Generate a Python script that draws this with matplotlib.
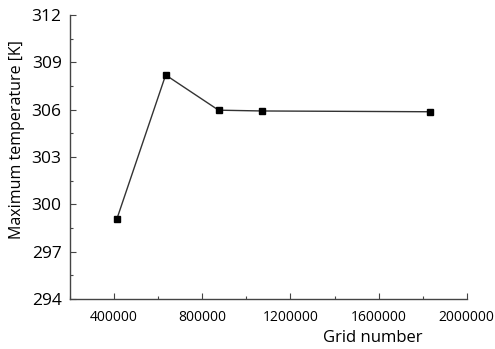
import matplotlib
matplotlib.use("Agg")
import matplotlib.pyplot as plt
from matplotlib.ticker import MultipleLocator

grid_number = [412000, 634000, 874000, 1070000, 1835000]
max_temp = [299.05, 308.2, 305.97, 305.92, 305.87]

plt.rcParams['font.family'] = ['Open Sans', 'DejaVu Sans']

fig = plt.figure(figsize=(4.95, 3.49), dpi=100)
ax = fig.add_axes([0.1414, 0.143, 0.8016, 0.814])

ax.plot(grid_number, max_temp, color="#333333", linewidth=1.0,
        marker='s', markersize=4.5, markerfacecolor='black', markeredgecolor='black')

ax.set_xlim(200000, 2000000)
ax.set_ylim(294, 312)
ax.xaxis.set_minor_locator(MultipleLocator(200000))
ax.yaxis.set_major_locator(MultipleLocator(3))
ax.yaxis.set_minor_locator(MultipleLocator(1.5))
ax.set_xticks([400000, 800000, 1200000, 1600000, 2000000])
ax.set_xticklabels(["400000", "800000", "1200000", "1600000", "2000000"])

for s in ['top', 'right']:
    ax.spines[s].set_visible(False)
for s in ['left', 'bottom']:
    ax.spines[s].set_color("#444444")
    ax.spines[s].set_linewidth(1.0)

ax.tick_params(axis='both', which='major', direction='in', length=4, color="#444444", width=0.8)
ax.tick_params(axis='both', which='minor', direction='in', length=2.5, color="#444444", width=0.8)
ax.tick_params(axis='y', labelsize=12.5, pad=6)
ax.tick_params(axis='x', labelsize=10, pad=8)

ax.set_xlabel("Grid number", fontsize=12)
ax.xaxis.set_label_coords(0.763, -0.11)
ax.set_ylabel("Maximum temperature [K]", fontsize=11.5)
ax.yaxis.set_label_coords(-0.113, 0.56)

fig.savefig("out.png", dpi=100)
